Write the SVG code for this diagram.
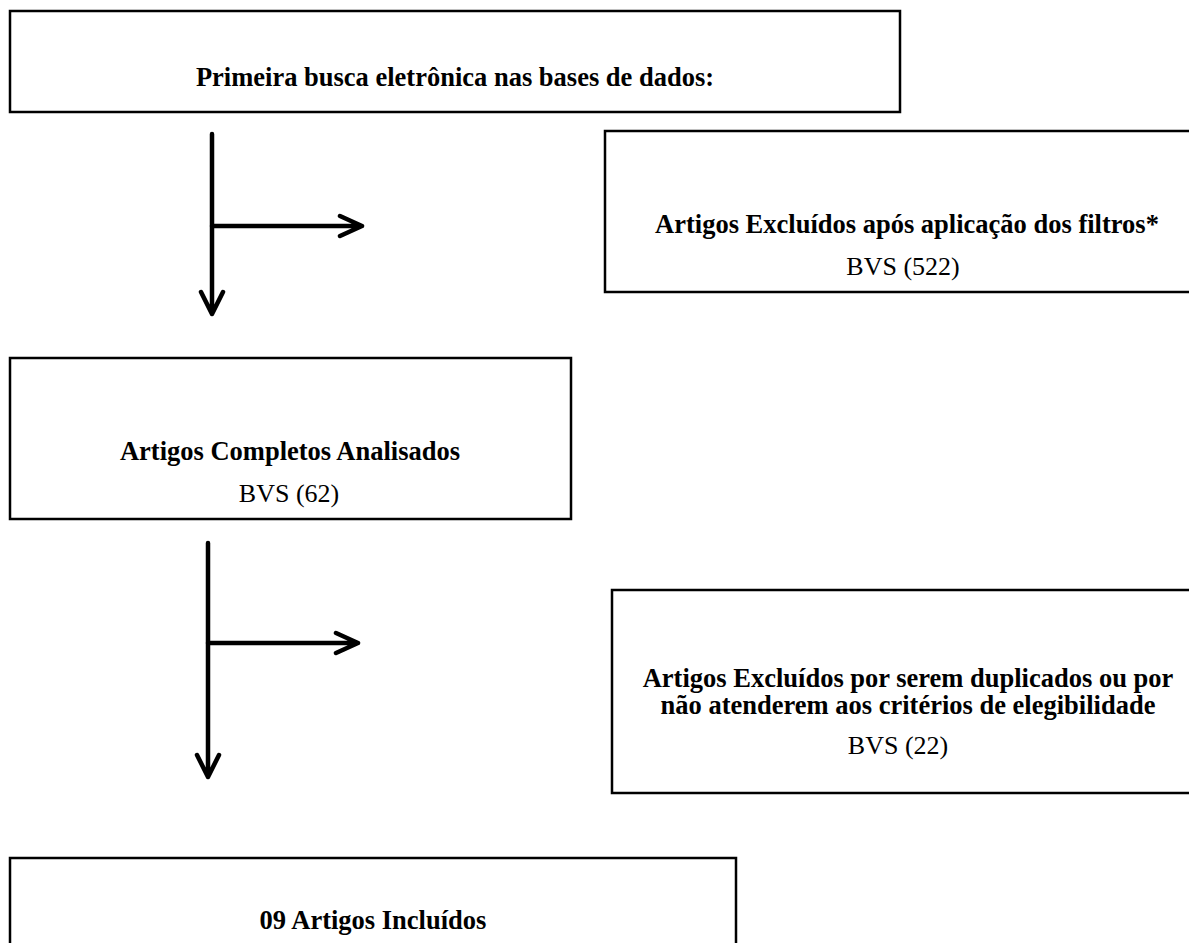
<svg xmlns="http://www.w3.org/2000/svg" width="1189" height="943" viewBox="0 0 1189 943">
<style>
.box{fill:#fff;stroke:#000;stroke-width:2.5}
.b{font-family:"Liberation Serif","Times New Roman",serif;font-weight:bold;font-size:26.5px;text-anchor:middle;fill:#000}
.r{font-family:"Liberation Serif","Times New Roman",serif;font-size:26px;text-anchor:middle;fill:#000}
.ln{fill:none;stroke:#000;stroke-width:4.5;stroke-linecap:round;stroke-linejoin:round}
</style>
<rect width="1189" height="943" fill="#fff"/>
<g id="n1"><rect class="box" x="10" y="11" width="890" height="101"/><text class="b" x="455" y="86">Primeira busca eletrônica nas bases de dados:</text></g>
<g id="n2"><rect class="box" x="605" y="131" width="600" height="161"/><text class="b" x="907" y="233">Artigos Excluídos após aplicação dos filtros*</text><text class="r" x="903" y="275">BVS (522)</text></g>
<g id="n3"><rect class="box" x="10" y="358" width="561" height="161"/><text class="b" x="290" y="460">Artigos Completos Analisados</text><text class="r" x="289" y="502">BVS (62)</text></g>
<g id="n4"><rect class="box" x="612" y="590" width="600" height="203"/><text class="b" x="908" y="687">Artigos Excluídos por serem duplicados ou por</text><text class="b" x="908" y="714">não atenderem aos critérios de elegibilidade</text><text class="r" x="898" y="754">BVS (22)</text></g>
<g id="n5"><rect class="box" x="10" y="858" width="726" height="100"/><text class="b" x="373" y="929">09 Artigos Incluídos</text></g>
<g id="connectors">
<path class="ln" d="M212 134V314M201 292L212 314L223 292"/>
<path class="ln" d="M212 226H362M340 216L362 226L340 236"/>
<path class="ln" d="M208 543V777M197 755L208 777L219 755"/>
<path class="ln" d="M208 643H358M336 633L358 643L336 653"/>
</g>
</svg>
